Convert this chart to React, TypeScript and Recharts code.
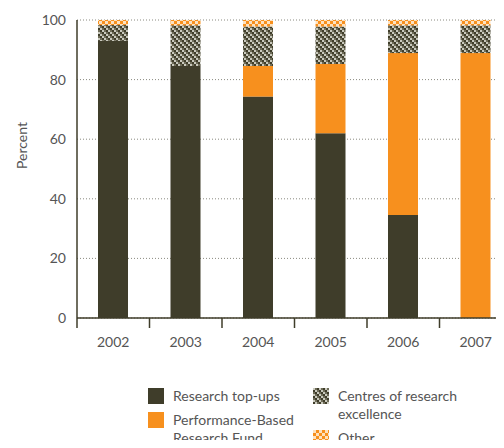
import { BarChart, Bar, XAxis, YAxis, CartesianGrid } from 'recharts';

const years = ['2002', '2003', '2004', '2005', '2006', '2007'];
const topUps = [93, 84.6, 74.3, 62, 34.6, 0];
const pbrf = [0, 0, 10.3, 23.2, 54.3, 88.9];
const centres = [5.3, 13.6, 13.2, 12.6, 9.3, 9.3];
const other = [1.7, 1.8, 2.2, 2.2, 1.8, 1.8];
const yTicks = [0, 20, 40, 60, 80, 100];

const data = years.map((year, i) => ({
  year,
  topUps: topUps[i],
  pbrf: pbrf[i],
  centres: centres[i],
  other: other[i],
}));

const DARK = '#3f3d2a';
const ORANGE = '#f7901e';
const TEXT = '#555';
const FONT = 'Lato, "Open Sans", sans-serif';

const CHART_W = 512;
const CHART_H = 448;
const Y_AXIS_W = 77;
const halfBand = (CHART_W - Y_AXIS_W) / years.length / 2;

function YearTick(props: any) {
  const { x, y, payload } = props;
  return (
    <g>
      <line x1={x - halfBand} y1={y - 2} x2={x - halfBand} y2={y + 8} stroke={DARK} strokeWidth={1.5} />
      <text x={x} y={y + 27} textAnchor="middle" fill={TEXT} fontSize={14} fontFamily={FONT}>
        {payload.value}
      </text>
    </g>
  );
}

function Swatch({ fill }: { fill: string }) {
  return (
    <svg width={16} height={16} style={{ display: 'block', flex: 'none' }}>
      <defs>
        <PatternDefs />
      </defs>
      <rect width={16} height={16} fill={fill} />
    </svg>
  );
}

function PatternDefs() {
  return (
    <>
      <pattern id="centresPat" patternUnits="userSpaceOnUse" width={6} height={6}>
        <rect width={6} height={6} fill={DARK} />
        <rect x={0} y={0} width={2} height={2} fill="#c9c9bd" />
        <rect x={2} y={2} width={2} height={2} fill="#c9c9bd" />
        <rect x={4} y={4} width={2} height={2} fill="#c9c9bd" />
        <rect x={2} y={0} width={2} height={2} fill="#6e6c58" />
        <rect x={4} y={2} width={2} height={2} fill="#6e6c58" />
        <rect x={0} y={4} width={2} height={2} fill="#6e6c58" />
      </pattern>
      <pattern id="otherPat" patternUnits="userSpaceOnUse" width={6} height={6}>
        <rect width={6} height={6} fill={ORANGE} />
        <rect x={0} y={0} width={3} height={3} fill="#fde2c0" />
        <rect x={3} y={3} width={3} height={3} fill="#fde2c0" />
      </pattern>
    </>
  );
}

const legendText: React.CSSProperties = {
  fontFamily: FONT,
  fontSize: 14,
  color: TEXT,
  lineHeight: '18px',
  marginTop: -1,
};

export default function App() {
  return (
    <div style={{ position: 'relative', margin: -8, width: 504, height: 448, overflow: 'hidden', background: '#fff' }}>
      <BarChart
        width={CHART_W}
        height={CHART_H}
        data={data}
        margin={{ top: 20, right: 0, left: 0, bottom: 100 }}
        barSize={30}
      >
        <defs>
          <PatternDefs />
        </defs>
        <CartesianGrid vertical={false} stroke="#8a8a80" strokeDasharray="1 2" />
        <XAxis
          dataKey="year"
          height={30}
          axisLine={{ stroke: DARK, strokeWidth: 1.5 }}
          tickLine={false}
          tick={<YearTick />}
          tickSize={0}
          interval={0}
        />
        <YAxis
          width={Y_AXIS_W}
          domain={[0, 100]}
          ticks={yTicks}
          axisLine={{ stroke: DARK, strokeWidth: 1.5 }}
          tickLine={false}
          tickMargin={5}
          tick={{ fill: TEXT, fontSize: 14, fontFamily: FONT }}
          label={{ value: 'Percent', angle: -90, position: 'insideLeft', offset: 22, fill: TEXT, fontSize: 14, fontFamily: FONT }}
        />
        <Bar dataKey="topUps" stackId="a" fill={DARK} isAnimationActive={false} />
        <Bar dataKey="pbrf" stackId="a" fill={ORANGE} isAnimationActive={false} />
        <Bar dataKey="centres" stackId="a" fill="url(#centresPat)" isAnimationActive={false} />
        <Bar dataKey="other" stackId="a" fill="url(#otherPat)" isAnimationActive={false} />
      </BarChart>
      <div style={{ position: 'absolute', left: 148, top: 388, display: 'flex', gap: 9, alignItems: 'flex-start' }}>
        <Swatch fill={DARK} />
        <div style={legendText}>Research top-ups</div>
      </div>
      <div style={{ position: 'absolute', left: 148, top: 412, display: 'flex', gap: 9, alignItems: 'flex-start' }}>
        <Swatch fill={ORANGE} />
        <div style={legendText}>Performance-Based<br />Research Fund</div>
      </div>
      <div style={{ position: 'absolute', left: 313, top: 388, display: 'flex', gap: 9, alignItems: 'flex-start' }}>
        <Swatch fill="url(#centresPat)" />
        <div style={legendText}>Centres of research<br />excellence</div>
      </div>
      <div style={{ position: 'absolute', left: 313, top: 430, display: 'flex', gap: 9, alignItems: 'flex-start' }}>
        <Swatch fill="url(#otherPat)" />
        <div style={legendText}>Other</div>
      </div>
    </div>
  );
}
